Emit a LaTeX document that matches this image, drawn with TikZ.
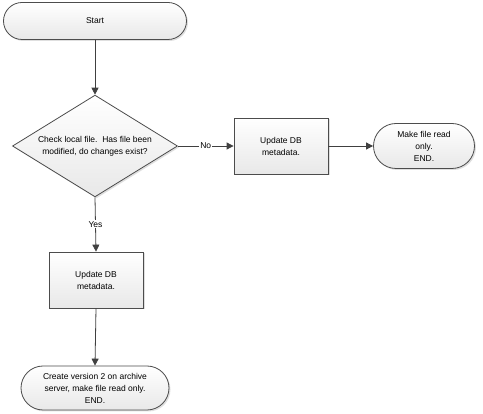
\documentclass[tikz,border=0pt]{standalone}
\usepackage{fontspec}
\setmainfont{Liberation Sans}
\usetikzlibrary{arrows, arrows.meta, positioning, shapes.geometric, shapes.misc, shadows}

\tikzset{
    flow/.style={draw=black!70, line width=0.8pt, top color=white, bottom color=black!9,
        drop shadow={shadow xshift=1.5pt, shadow yshift=-1.5pt, fill=black!25},
        font=\fontsize{8.5}{12}\selectfont, align=center},
    terminal/.style={flow, rounded rectangle, inner sep=1pt},
    process/.style={flow, rectangle, minimum width=94pt, minimum height=56pt},
    decision/.style={flow, diamond, inner sep=-8pt, minimum width=165pt, minimum height=99pt},
    link/.style={draw=black!75, line width=0.8pt, -{Triangle[length=7pt, width=7pt]}},
    lbl/.style={fill=white, inner sep=1pt, font=\fontsize{8.5}{12}\selectfont},
}

\begin{document}
\begin{tikzpicture}[x=1pt, y=-1pt]
    \useasboundingbox (0, 0) rectangle (483, 414);

    % Start
    \node[terminal, minimum width=185pt, minimum height=37pt] (start) at (95, 21) {Start};

    % Decision
    \node[decision] (check) at (95, 146) {Check local file.\ \ Has file been\\modified, do changes exist?};

    % No branch
    \node[process] (updNo) at (281, 146) {Update DB\\metadata.};
    \node[terminal, minimum width=103pt, minimum height=45pt] (endNo) at (424, 146) {Make file read\\only.\\END.};

    % Yes branch
    \node[process] (updYes) at (96, 280) {Update DB\\metadata.};
    \node[terminal, minimum width=150pt, minimum height=44pt] (endYes) at (95, 388) {Create version 2 on archive\\server, make file read only.\\END.};

    % Connectors
    \draw[link] (start.south) -- (check.north);
    \draw[link] (check.east) -- node[lbl] {No} (updNo.west);
    \draw[link] (updNo.east) -- (endNo.west);
    \draw[link] (check.south) -- node[lbl] {Yes} (updYes.north);
    \draw[link] (updYes.south) -- (endYes.north);
\end{tikzpicture}
\end{document}
